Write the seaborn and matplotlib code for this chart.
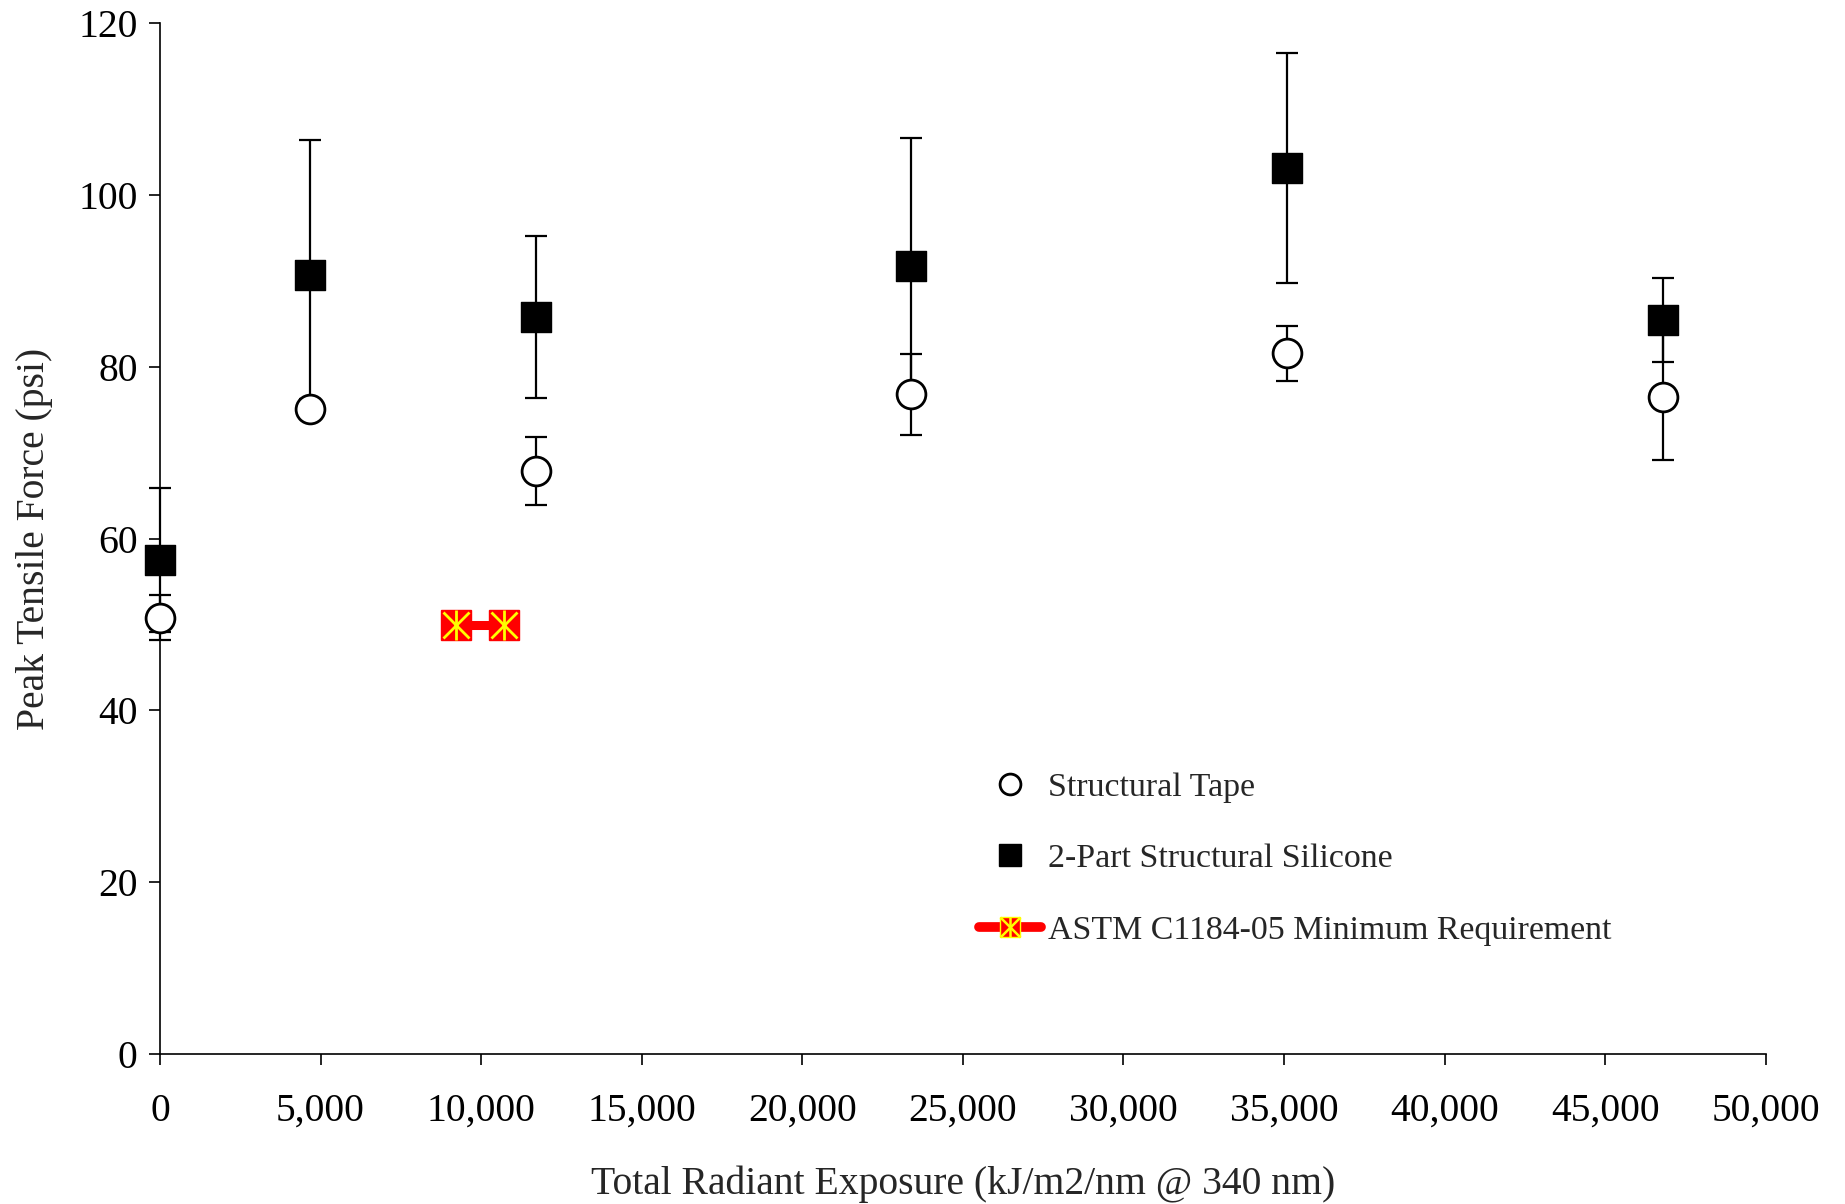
import matplotlib
matplotlib.use("Agg")
import matplotlib.pyplot as plt
import seaborn as sns
import pandas as pd
from matplotlib.lines import Line2D
from matplotlib.ticker import FuncFormatter

# ---- data ----
exposure = [0, 4680, 11700, 23400, 35100, 46800]
tape_mean = [50.8, 75.1, 67.9, 76.8, 81.6, 76.5]
tape_err = [2.6, 1.2, 4.0, 4.7, 3.2, 7.3]
silicone_mean = [57.5, 90.7, 85.8, 91.8, 103.2, 85.5]
silicone_err = [8.4, 15.7, 9.4, 14.9, 13.4, 4.9]
astm_x = [9230, 10700]
astm_y = [50, 50]

FS = 28.5
LFS = 24.4
sns.set_style("ticks")
plt.rcParams["font.family"] = ["Liberation Serif", "DejaVu Serif"]
plt.rcParams["font.size"] = FS

fig = plt.figure(figsize=(18.45, 12.04), dpi=100)
ax = fig.add_axes([0.0867, 0.1246, 0.8703, 0.8559])

df_tape = pd.DataFrame({"x": exposure, "y": tape_mean})
df_sil = pd.DataFrame({"x": exposure, "y": silicone_mean})
df_astm = pd.DataFrame({"x": astm_x, "y": astm_y})

ebkw = dict(fmt="none", ecolor="black", elinewidth=1.6, capsize=8, capthick=1.6, zorder=2)
ax.errorbar(exposure, silicone_mean, yerr=silicone_err, **ebkw)
ax.errorbar(exposure, tape_mean, yerr=tape_err, **ebkw)

sns.scatterplot(data=df_tape, x="x", y="y", ax=ax, marker="o", s=430,
                facecolor="white", edgecolor="black", linewidth=2, zorder=4, legend=False)
sns.scatterplot(data=df_sil, x="x", y="y", ax=ax, marker="s", s=470,
                color="black", edgecolor="black", linewidth=1, zorder=5, legend=False)

sns.lineplot(data=df_astm, x="x", y="y", ax=ax, color="red", linewidth=6.5,
             zorder=3, legend=False)
ax.plot(astm_x, astm_y, linestyle="none", marker="s", markersize=21,
        markerfacecolor="red", markeredgecolor="red", zorder=6)
ax.plot(astm_x, astm_y, linestyle="none", marker="x", markersize=19,
        markeredgecolor="yellow", markeredgewidth=2, zorder=7)
ax.plot(astm_x, astm_y, linestyle="none", marker="|", markersize=21,
        markeredgecolor="yellow", markeredgewidth=2, zorder=7)

ax.set_xlim(0, 50000)
ax.set_ylim(0, 120)
ax.set_xticks(range(0, 50001, 5000))
ax.set_yticks(range(0, 121, 20))
ax.xaxis.set_major_formatter(FuncFormatter(lambda v, p: f"{int(v):,}"))
ax.tick_params(axis="both", direction="out", length=8, width=1.2, labelsize=FS, colors="black")
ax.tick_params(axis="x", pad=20)
ax.tick_params(axis="y", pad=8)
for s in ["top", "right"]:
    ax.spines[s].set_visible(False)
for s in ["left", "bottom"]:
    ax.spines[s].set_linewidth(1.2)
    ax.spines[s].set_color("black")
for coll in ax.collections:
    coll.set_clip_on(False)
for ln in ax.lines:
    ln.set_clip_on(False)

ax.set_xlabel("Total Radiant Exposure (kJ/m2/nm @ 340 nm)", fontsize=FS, labelpad=26)
ax.set_ylabel("Peak Tensile Force (psi)", fontsize=FS, labelpad=18)

h1 = Line2D([], [], linestyle="none", marker="o", markersize=15,
            markerfacecolor="white", markeredgecolor="black", markeredgewidth=2)
h2 = Line2D([], [], linestyle="none", marker="s", markersize=16,
            markerfacecolor="black", markeredgecolor="black")
h3a = Line2D([], [], color="red", linewidth=7, solid_capstyle="round")
h3b = Line2D([], [], linestyle="none", marker="s", markersize=15,
             markerfacecolor="red", markeredgecolor="yellow", markeredgewidth=1)
h3c = Line2D([], [], linestyle="none", marker="x", markersize=14,
             markeredgecolor="yellow", markeredgewidth=1.8)
h3d = Line2D([], [], linestyle="none", marker="|", markersize=15,
             markeredgecolor="yellow", markeredgewidth=1.8)
leg = ax.legend([h1, h2, (h3a, h3b, h3c, h3d)],
                ["Structural Tape", "2-Part Structural Silicone",
                 "ASTM C1184-05 Minimum Requirement"],
                loc="upper left", bbox_to_anchor=(0.491, 0.303), frameon=False,
                fontsize=LFS, handlelength=1.82, handletextpad=0.23, labelspacing=1.2)

fig.savefig("out.png", dpi=100)
